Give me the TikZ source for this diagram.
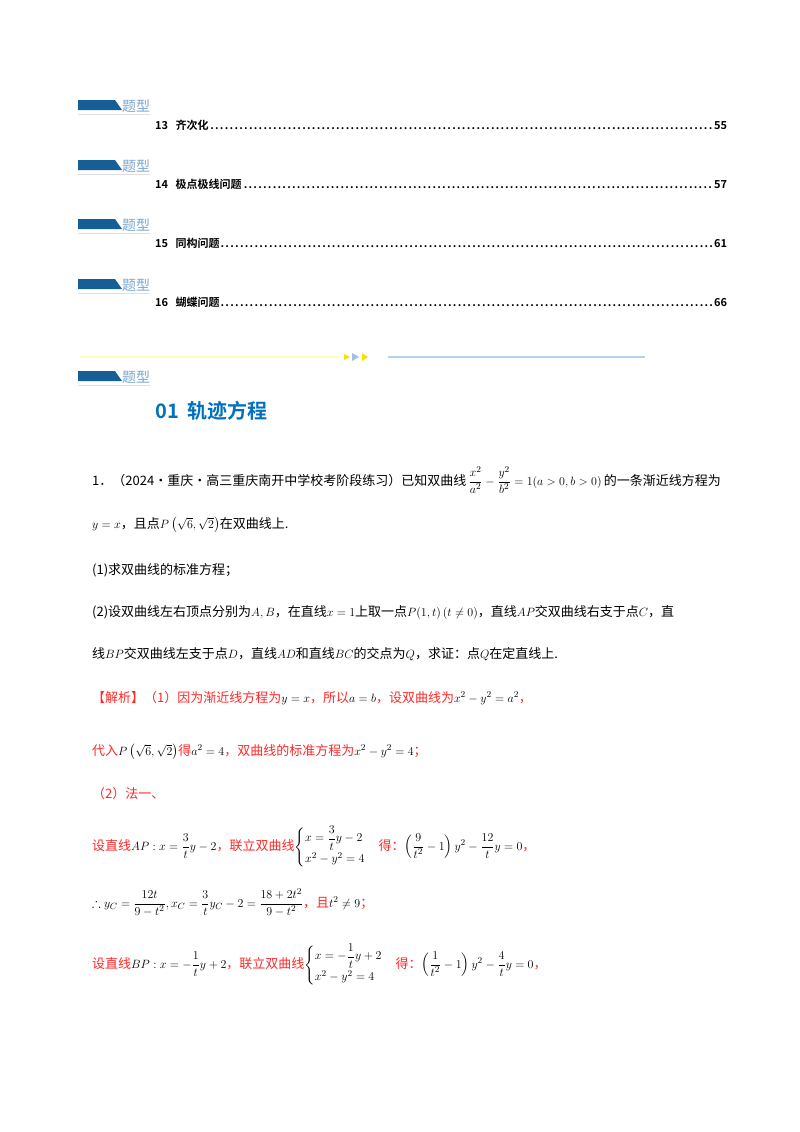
\documentclass[tikz,border=0pt]{standalone}
\usepackage{amsmath,amssymb}
\usepackage{fontspec}
\newfontfamily\cjk{Noto Sans CJK SC}
\newfontfamily\cjkb{Noto Sans CJK SC}[BoldFont={* Bold},UprightFont={* Bold}]
\definecolor{tblue}{RGB}{22,94,150}
\definecolor{hblue}{RGB}{0,112,192}
\definecolor{lblue}{RGB}{120,165,205}
\definecolor{sep}{RGB}{180,210,240}
\definecolor{red1}{RGB}{255,40,40}
\begin{document}
\begin{tikzpicture}[x=1pt,y=-1pt,
  txt/.style={anchor=base west,inner sep=0pt,font=\fontsize{13}{15}\selectfont\cjk},
  rtxt/.style={txt,text=red1},
  toc/.style={anchor=base west,inner sep=0pt,font=\fontsize{11}{13}\selectfont\cjkb}]
\useasboundingbox (0,0) rectangle (800,1132);
\newcommand\tixing[2]{%
  \fill[tblue] (#1,#2) -- (#1+37,#2) -- (#1+44,#2+10) -- (#1,#2+10) -- cycle;
  \node[anchor=base west,inner sep=0pt,text=lblue,font=\fontsize{14}{14}\selectfont\cjk] at (#1+44,#2+11) {题型};
  \draw[gray!25,line width=1pt] (#1,#2+14) -- (#1+72,#2+14);}
\tixing{78}{100}\tixing{78}{160}\tixing{78}{219}\tixing{78}{279}
\foreach \y/\lab/\pg [count=\i] in {129/13\ \ 齐次化/55,188/14\ \ 极点极线问题/57,247/15\ \ 同构问题/61,306/16\ \ 蝴蝶问题/66}{
  \node[toc,text width=572pt] (row\i) at (155,\y) {\lab\dotfill\pg};}
% separator
\draw[yellow!25!white,line width=1.2pt] (80,357) -- (340,357);
\fill[yellow!80!orange] (344,354) -- (350,357) -- (344,360) -- cycle;
\fill[lblue!70] (352,353) -- (359,357) -- (352,361) -- cycle;
\fill[yellow!80!orange] (362,353) -- (368,357) -- (362,361) -- cycle;
\draw[sep,line width=1.2pt] (388,357) -- (645,357);
\tixing{78}{371}
\node[anchor=base west,inner sep=0pt,text=hblue,font=\fontsize{20}{22}\selectfont\cjkb] (h) at (155,418) {01\ \ 轨迹方程};
% question
\node[txt] (q1) at (92,485) {1．（2024·重庆·高三重庆南开中学校考阶段练习）已知双曲线\,$\dfrac{x^2}{a^2}-\dfrac{y^2}{b^2}=1(a>0,b>0)$\,的一条渐近线方程为};
\node[txt] (q2) at (92,528) {$y=x$，且点$P\left(\sqrt6,\sqrt2\right)$在双曲线上.};
\node[txt] (q3) at (92,574) {(1)求双曲线的标准方程；};
\node[txt] (q4) at (92,616) {(2)设双曲线左右顶点分别为$A,B$，在直线$x=1$上取一点$P(1,t)\,(t\neq0)$，直线$AP$交双曲线右支于点$C$，直};
\node[txt] (q5) at (92,658) {线$BP$交双曲线左支于点$D$，直线$AD$和直线$BC$的交点为$Q$，求证：点$Q$在定直线上.};
\node[rtxt] (a1) at (92,702) {【解析】（1）因为渐近线方程为\textcolor{black}{$y=x$}，所以\textcolor{black}{$a=b$}，设双曲线为\textcolor{black}{$x^2-y^2=a^2$}，};
\node[rtxt] (a2) at (92,755) {代入\textcolor{black}{$P\left(\sqrt6,\sqrt2\right)$}得\textcolor{black}{$a^2=4$}，双曲线的标准方程为\textcolor{black}{$x^2-y^2=4$}；};
\node[rtxt] (a3) at (92,798) {（2）法一、};
\node[rtxt] (a4) at (92,850) {设直线\textcolor{black}{$AP:x=\dfrac3t y-2$}，联立双曲线\textcolor{black}{$\begin{cases}x=\dfrac3t y-2\\ x^2-y^2=4\end{cases}$}得：\textcolor{black}{$\left(\dfrac9{t^2}-1\right)y^2-\dfrac{12}{t}y=0$}，};
\node[rtxt] (a5) at (92,907) {\textcolor{black}{$\therefore y_C=\dfrac{12t}{9-t^2},x_C=\dfrac3t y_C-2=\dfrac{18+2t^2}{9-t^2}$}，且\textcolor{black}{$t^2\neq9$}；};
\node[rtxt] (a6) at (92,968) {设直线\textcolor{black}{$BP:x=-\dfrac1t y+2$}，联立双曲线\textcolor{black}{$\begin{cases}x=-\dfrac1t y+2\\ x^2-y^2=4\end{cases}$}得：\textcolor{black}{$\left(\dfrac1{t^2}-1\right)y^2-\dfrac{4}{t}y=0$}，};
\end{tikzpicture}
\end{document}
